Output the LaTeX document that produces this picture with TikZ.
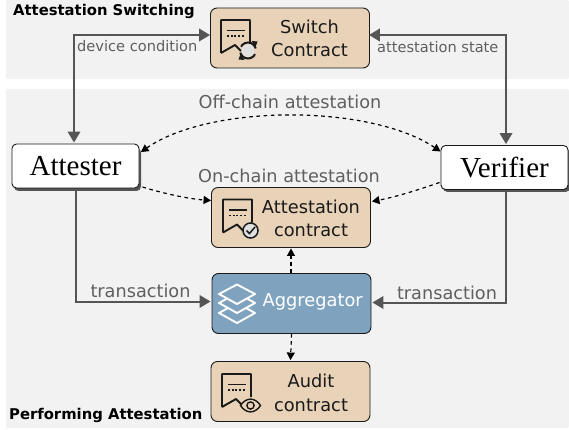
\documentclass[tikz,border=0pt]{standalone}
\usepackage{fontspec}
\setmainfont{DejaVu Sans}
\newfontfamily\serifface{Liberation Serif}
\usetikzlibrary{arrows.meta,shadows,calc}
\definecolor{panel}{HTML}{F2F2F2}
\definecolor{tan}{HTML}{E8D2B8}
\definecolor{steel}{HTML}{7FA3BF}
\definecolor{linegray}{HTML}{555555}
\definecolor{labelgray}{HTML}{5F5F5F}
\definecolor{ink}{HTML}{1A1A1A}
\tikzset{
  bgpanel/.style={fill=panel,draw=none,rounded corners=1.5},
  box/.style={draw=ink,line width=0.9,rounded corners=6.5,inner sep=0,minimum width=159,minimum height=60},
  contract/.style={box,fill=tan},
  aggbox/.style={box,fill=steel},
  actor/.style={draw=ink,line width=0.9,fill=white,rounded corners=4.5,inner sep=0,minimum width=127,minimum height=44,
     font=\serifface\fontsize{29}{30}\selectfont,text=black},
  actorshadow/.style={fill=linegray,draw=none,rounded corners=4.5},
  boxtext/.style={font=\fontsize{17.8}{23.5}\selectfont,align=center,text=ink,inner sep=0},
  edgelabel/.style={font=\fontsize{17.7}{18}\selectfont,text=labelgray,inner sep=0},
  smalllabel/.style={font=\fontsize{14.6}{15}\selectfont,text=labelgray,inner sep=0},
  paneltitle/.style={font=\bfseries\fontsize{14.8}{15}\selectfont,text=black,inner sep=0},
  solidarrow/.style={draw=linegray,line width=2,-{Triangle[length=11,width=12.5]}},
  solidboth/.style={draw=linegray,line width=2,{Triangle[length=11,width=12.5]}-{Triangle[length=11,width=12.5]}},
  dasharrow/.style={draw=black,line width=1.2,dash pattern=on 3.6 off 3.6,-{Triangle[length=7.5,width=8]}},
  dashboth/.style={draw=black,line width=1.2,dash pattern=on 3.6 off 3.6,{Triangle[length=7.5,width=8]}-{Triangle[length=7.5,width=8]}},
  docicon/.pic={
    \draw[ink,line width=1.9,line join=round] (0,33) -- (0,0) -- (29,0) -- (29,23) (0,33) -- (14,25) -- (20,31);
    \draw[ink,line width=1.5] (6,10.5) -- (24,10.5);
    \draw[ink,line width=1.5,dash pattern=on 2 off 1.7] (6,16) -- (24,16);
  },
}
\begin{document}
\begin{tikzpicture}[x=1pt,y=-1pt]
\useasboundingbox (0,0) rectangle (569,430);
\fill[white] (0,0) rectangle (569,430);
\fill[bgpanel] (6,0) rectangle (569,79);
\fill[bgpanel] (6,89) rectangle (569,428);

% shadows of the actors
\fill[actorshadow] (14,148) rectangle (141,191);
\fill[actorshadow] (443,149) rectangle (570,192);

% boxes
\node[contract] (switch) at (290,38) {};
\node[contract] (attcon) at (291,217.5) {};
\node[aggbox]   (agg)    at (291.5,303.5) {};
\node[contract] (audit)  at (290.5,391.5) {};
\node[actor] (attester) at (75.5,166) {Attester};
\node[actor] (verifier) at (504.5,167.5) {Verifier};

% box texts
\node[boxtext] (switchtext) at (309.5,38.5) {Switch\\Contract};
\node[boxtext] (attcontext) at (311,218.5) {Attestation\\contract};
\node[boxtext] (audittext)  at (311,393) {Audit\\contract};
\node[boxtext,text=white,anchor=west] (aggtext) at (262.5,302) {Aggregator};

% icons
\pic at (221,20) {docicon};
\pic at (223,199.5) {docicon};
\pic at (222,374) {docicon};
% refresh
\fill[white!88!black] (248,50.5) circle (6.5pt);
\draw[ink,line width=2,dash pattern=on 19 off 6.1,dash phase=-2] (248,50.5) circle (8pt);
\fill[ink] (251.5,41) -- (257.5,41.5) -- (255.5,47) -- cycle;
\fill[ink] (244.5,60) -- (238.5,59.5) -- (240.5,54) -- cycle;
% check
\draw[ink,line width=1.5,fill=white!88!black] (250.5,230.5) circle (7.5);
\draw[ink,line width=1.5] (246.5,230.5) -- (249.5,233.5) -- (255,227);
% eye
\draw[ink,line width=1.4,fill=tan] (240.5,405.5) .. controls (246,397) and (255,397) .. (260.5,405.5) .. controls (255,414) and (246,414) .. (240.5,405.5) -- cycle;
\draw[ink,line width=1.4] (250.5,405.5) circle (3.6);
% layers
\begin{scope}[draw=white,line width=1.9,line join=round,fill=steel]
  \filldraw (237,323) -- (255,313) -- (237,303) -- (219,313) -- cycle;
  \filldraw (237,313) -- (255,303) -- (237,293) -- (219,303) -- cycle;
  \filldraw (237,304) -- (255,294) -- (237,284.5) -- (219,294) -- cycle;
\end{scope}

% solid connectors
\coordinate (swleft) at ($(switch.west)+(0,-3)$);
\coordinate (swright) at ($(switch.east)+(-1,-3)$);
\coordinate (attin) at ($(agg.west)+(-1,-2)$);
\coordinate (verin) at ($(agg.east)+(1,-1)$);
\coordinate (atttop) at ($(attester.north)+(-1.5,-1)$);
\coordinate (vertop) at ($(verifier.north)+(1.5,-1)$);
\coordinate (attbot) at ($(attester.south)+(0,2)$);
\coordinate (verbot) at ($(verifier.south)+(1.5,2)$);
\draw[solidboth] (atttop) |- (swleft);
\draw[solidboth] (vertop) |- (swright);
\draw[solidarrow] (attbot) |- (attin);
\draw[solidarrow] (verbot) |- (verin);

% dashed connectors
\coordinate (offa) at ($(attester.east)+(1.5,-14)$);
\coordinate (offb) at ($(verifier.west)+(0,-16)$);
\coordinate (ona) at ($(attester.east)+(3,21)$);
\coordinate (onb) at ($(verifier.west)+(-1,15)$);
\coordinate (cona) at ($(attcon.west)+(0,-17)$);
\coordinate (conb) at ($(attcon.east)+(1,-16)$);
\draw[dashboth] (offa) .. controls (210,104) and (370,104) .. (offb);
\draw[dasharrow] (ona) .. controls (165,194) and (190,199) .. (cona);
\draw[dasharrow] (onb) .. controls (415,191) and (395,197) .. (conb);
\draw[dasharrow] (agg.north -| attcon.south) -- ($(attcon.south)+(0,0.5)$);
\draw[dasharrow] (agg.south) -- ($(audit.north)+(0,-1)$);

% labels
\node[paneltitle,anchor=west] (t1) at (13,11.5) {Attestation Switching};
\node[paneltitle,anchor=west] (t2) at (9,415) {Performing Attestation};
\node[smalllabel,anchor=west] (l1) at (77,46) {device condition};
\node[smalllabel,anchor=west] (l2) at (377,47) {attestation state};
\node[edgelabel] (l3) at (290,102) {Off-chain attestation};
\node[edgelabel] (l4) at (289,176) {On-chain attestation};
\node[edgelabel] (l5) at (140.5,291) {transaction};
\node[edgelabel] (l6) at (447,293) {transaction};
\end{tikzpicture}
\end{document}
